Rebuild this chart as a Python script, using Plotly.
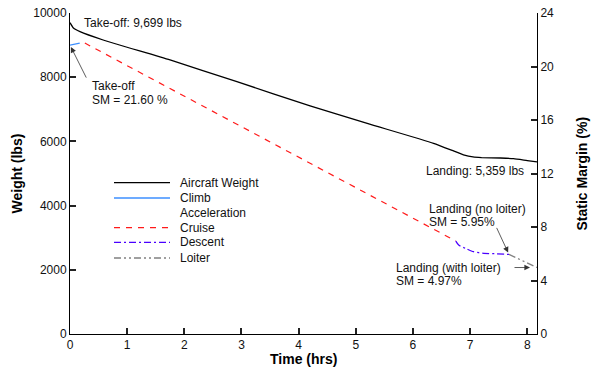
import plotly.graph_objects as go

# ---------------- data ----------------
weight_t = [0, 0.06, 0.175, 0.58, 1.75, 2.92, 4.2, 5.2, 6.36, 6.7, 6.9, 7.05, 7.2, 7.53, 7.76, 8.0, 8.17]
weight_lbs = [9699, 9530, 9417, 9159, 8536, 7860, 7103, 6560, 5941, 5710, 5570, 5515, 5497, 5483, 5461, 5400, 5359]

climb_t = [0, 0.17]
climb_sm = [21.60, 21.75]

accel_t = [0.17, 0.26]
accel_sm = [21.75, 21.75]

cruise_t = [0.26, 6.75]
cruise_sm = [21.75, 6.95]

descent_t = [6.75, 6.8, 6.93, 7.06, 7.24, 7.45, 7.68]
descent_sm = [6.95, 6.65, 6.38, 6.15, 6.03, 6.0, 5.95]

loiter_t = [7.68, 8.17]
loiter_sm = [5.95, 4.97]

x_range = [0, 8.17]
y_range = [0, 10000]
y2_range = [0, 24]

legend_names = ["Aircraft Weight", "Climb", "Acceleration", "Cruise", "Descent", "Loiter"]

# ---------------- styles ----------------
FONT = "Liberation Sans, Arial, Helvetica, sans-serif"
styles = {
    "Aircraft Weight": dict(color="black", width=1.3, dash="solid"),
    "Climb": dict(color="#3d8fff", width=1.3, dash="solid"),
    "Acceleration": dict(color="rgba(0,0,0,0)", width=1.3, dash="solid"),
    "Cruise": dict(color="#ff1a1a", width=1.2, dash="6px,6px"),
    "Descent": dict(color="#4a00ff", width=1.3, dash="7px,3px,2px,3px"),
    "Loiter": dict(color="#808080", width=1.3, dash="7px,3px,2px,3px,2px,3px"),
}

fig = go.Figure()
fig.add_trace(go.Scatter(x=weight_t, y=weight_lbs, mode="lines", line=dict(shape="spline", smoothing=0.5, **styles["Aircraft Weight"]), name="Aircraft Weight", showlegend=False, yaxis="y"))
fig.add_trace(go.Scatter(x=climb_t, y=climb_sm, mode="lines", line=styles["Climb"], name="Climb", showlegend=False, yaxis="y2"))
fig.add_trace(go.Scatter(x=accel_t, y=accel_sm, mode="lines", line=styles["Acceleration"], name="Acceleration", showlegend=False, yaxis="y2"))
fig.add_trace(go.Scatter(x=cruise_t, y=cruise_sm, mode="lines", line=styles["Cruise"], name="Cruise", showlegend=False, yaxis="y2"))
fig.add_trace(go.Scatter(x=descent_t, y=descent_sm, mode="lines", line=dict(shape="spline", smoothing=0.6, **styles["Descent"]), name="Descent", showlegend=False, yaxis="y2"))
fig.add_trace(go.Scatter(x=loiter_t, y=loiter_sm, mode="lines", line=styles["Loiter"], name="Loiter", showlegend=False, yaxis="y2"))

# plot-area geometry (pixels)
L, R, T, B = 70, 537, 13, 334
W, H = R - L, B - T


def px(x):
    return (x - L) / W


def py(y):
    return (B - y) / H


# manual legend
leg_rows = [182.7, 198, 212.7, 227.7, 242.3, 258]
shapes = []
annotations = []
for name, yy in zip(legend_names, leg_rows):
    st = styles[name]
    if name != "Acceleration":
        shapes.append(dict(type="line", xref="paper", yref="paper", x0=px(114), x1=px(170), y0=py(yy), y1=py(yy),
                           line=dict(color=st["color"], width=st["width"], dash=st["dash"])))
    annotations.append(dict(text=name, xref="paper", yref="paper", x=px(178), y=py(yy), xanchor="left", yanchor="middle",
                            showarrow=False, font=dict(size=12, color="#111", family=FONT)))


def label(text, x, y, anchor="left"):
    annotations.append(dict(text=text, xref="paper", yref="paper", x=px(x), y=py(y), xanchor=anchor, yanchor="middle",
                            showarrow=False, font=dict(size=12, color="#111", family=FONT)))


label("Take-off: 9,699 lbs", 82, 23)
label("Take-off", 90, 86)
label("SM = 21.60 %", 90, 100)
label("Landing: 5,359 lbs", 526, 171, "right")
label("Landing (no loiter)", 427, 208.5)
label("SM = 5.95%", 427, 221.5)
label("Landing (with loiter)", 394, 267.5)
label("SM = 4.97%", 394, 280.5)


def arrow(x, y, ax, ay, standoff=0):
    annotations.append(dict(text="", x=x, y=y, xref="x", yref="y2", ax=ax, ay=ay, showarrow=True,
                            arrowhead=2, arrowsize=1.4, arrowwidth=0.8, arrowcolor="#333", standoff=standoff))


arrow(climb_t[0], climb_sm[0], 17, 34, standoff=2)
arrow(descent_t[-1], descent_sm[-1], -13, -28, standoff=2)
arrow(loiter_t[-1], loiter_sm[-1], -24, 0, standoff=7)

# axis titles
annotations.append(dict(text="<b>Weight (lbs)</b>", xref="paper", yref="paper", x=px(16), y=0.5, textangle=-90,
                        xanchor="center", yanchor="middle", showarrow=False, font=dict(size=14, color="black", family=FONT)))
annotations.append(dict(text="<b>Static Margin (%)</b>", xref="paper", yref="paper", x=px(581), y=0.5, textangle=-90,
                        xanchor="center", yanchor="middle", showarrow=False, font=dict(size=14, color="black", family=FONT)))
annotations.append(dict(text="<b>Time (hrs)</b>", xref="paper", yref="paper", x=0.5, y=py(359),
                        xanchor="center", yanchor="middle", showarrow=False, font=dict(size=14, color="black", family=FONT)))

axis_common = dict(showgrid=False, zeroline=False, showline=True, linecolor="black", linewidth=1,
                   ticks="inside", ticklen=6, tickwidth=1.5, tickcolor="#222222",
                   tick0=0, tickformat="d",
                   tickfont=dict(size=12, color="#111", family=FONT))

fig.update_layout(
    template="none",
    width=591, height=367,
    margin=dict(l=L, r=591 - R, t=T, b=367 - B, pad=0),
    paper_bgcolor="white", plot_bgcolor="white",
    showlegend=False,
    xaxis=dict(range=x_range, dtick=1, **axis_common),
    yaxis=dict(range=y_range, dtick=2000, **axis_common),
    yaxis2=dict(range=y2_range, overlaying="y", side="right", dtick=4, **axis_common),
    shapes=shapes,
    annotations=annotations,
)

fig.write_html("out.html")
